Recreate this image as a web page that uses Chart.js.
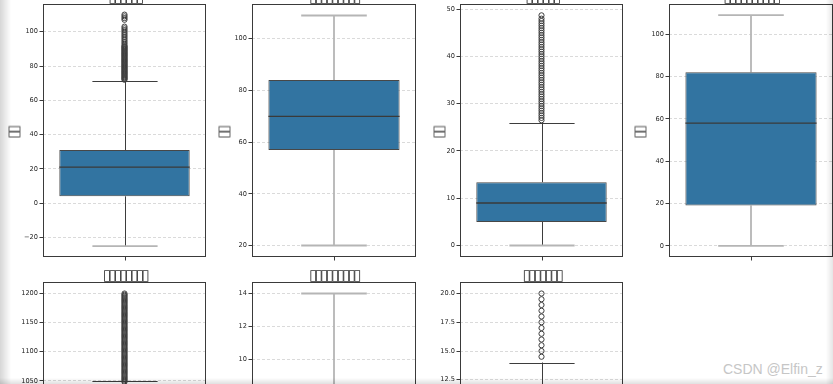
<!DOCTYPE html>
<html><head><meta charset="utf-8">
<script src="https://cdn.jsdelivr.net/npm/chart.js@4"></script>
<style>
html,body{margin:0;padding:0;width:833px;height:384px;overflow:hidden;background:#fff;position:relative;}
canvas{position:absolute;}
.t{position:absolute;font-family:'DejaVu Sans';font-size:15px;line-height:15px;color:#333;white-space:nowrap;letter-spacing:-2.75px;}
.yl{position:absolute;font-family:'DejaVu Sans';font-size:15px;line-height:15px;color:#333;white-space:nowrap;letter-spacing:-2.75px;}
.wm{position:absolute;left:723px;top:361px;font-family:'Liberation Sans';font-size:14px;color:#c6c6c6;}
.sh{position:absolute;pointer-events:none;}
</style></head><body>
<script>
// ---------- data ----------
const G = '\u25AF';
const titles = [G.repeat(6), G.repeat(9), G.repeat(6), G.repeat(10), G.repeat(8), G.repeat(9), G.repeat(7)];
const yLabels = [G+G, G+G, G+G, G+G, G+G, G+G, G+G];
const q1 =          [4,   57,  5,    19,  900,  2, 4];
const medians =     [21,  70,  9,    58,  930,  4, 6];
const q3 =          [31,  84,  13.4, 82,  960,  7, 8];
const whiskerLow =  [-25, 20,  0,    0,   810,  0, 0];
const whiskerHigh = [71,  109, 26,   109, 1050, 14, 14];
const outliers1 = [72,72.5,73,73.5,74,74.5,75,75.5,76,76.5,77,77.5,78,78.5,79,79.5,80,80.5,81,81.5,82,82.5,83,83.5,84,84.5,85,85.5,86,86.5,87,87.5,88,88.5,89,89.5,90,90.5,91,91.5,92,93,94,95,96,97,98,99,100,101,102,103,107,108,109,110];
const outliers2 = [];
const outliers3 = [26.5,27,27.5,28,28.5,29,29.5,30,30.5,31,31.5,32,32.5,33,33.5,34,34.5,35,35.5,36,36.5,37,37.5,38,38.5,39,39.5,40,40.5,41,41.5,42,42.5,43,43.5,44,44.5,45,45.5,46,46.5,47,47.5,48,48.7];
const outliers4 = [];
const outliers5 = [1048,1050,1052,1054,1056,1058,1060,1062,1064,1066,1068,1070,1072,1074,1076,1078,1080,1082,1084,1086,1088,1090,1092,1094,1096,1098,1100,1102,1104,1106,1108,1110,1112,1114,1116,1118,1120,1122,1124,1126,1128,1130,1132,1134,1136,1138,1140,1142,1144,1146,1148,1150,1152,1154,1156,1158,1160,1162,1164,1166,1168,1170,1172,1174,1176,1178,1180,1182,1184,1186,1188,1190,1192,1194,1196,1198,1200];
const outliers6 = [];
const outliers7 = [14.5,15,15.5,16,16.5,17,17.5,18,18.5,19,19.5,20];
const outliers = [outliers1, outliers2, outliers3, outliers4, outliers5, outliers6, outliers7];
const ticks1 = [-20,0,20,40,60,80,100];
const ticks2 = [20,40,60,80,100];
const ticks3 = [0,10,20,30,40,50];
const ticks4 = [0,20,40,60,80,100];
const ticks5 = [800,850,900,950,1000,1050,1100,1150,1200];
const ticks6 = [0,2,4,6,8,10,12,14];
const ticks7 = [0,2.5,5,7.5,10,12.5,15,17.5,20];
const tickSets = [ticks1, ticks2, ticks3, ticks4, ticks5, ticks6, ticks7];
const tickDecimals = [0,0,0,0,0,0,1];
const yMin = [-31.4, 15.55, -2.43, -5.3, 785, -0.7, -1];
const yMax = [116.2, 113.45, 51.1, 114.3, 1219.8, 14.7, 21];

// ---------- layout / style ----------
const colLeft = [43, 252, 460, 669];
const rowTop = [4, 282];
const plotW = 164, plotH = 253, leftW = 44, padV = 8;
const ylOffset = [29.5, 28.5, 21.5, 29.5];
const softWhisker = [false, true, false, true, false, true, false];
const softLowCap = [true, true, true, true, false, false, false];
const softHighCap = [false, true, false, true, false, true, false];
const BOX = '#3274a1', LINE = '#3d3d3d', SOFT = '#b5b5b5';

function hline(ctx, x1, x2, y, soft){
  ctx.beginPath();
  if (soft){ ctx.strokeStyle = SOFT; ctx.lineWidth = 1.8; }
  else { ctx.strokeStyle = LINE; ctx.lineWidth = 1; y = Math.round(y) + 0.5; }
  ctx.moveTo(x1, y); ctx.lineTo(x2, y); ctx.stroke();
}
function vline(ctx, x, y1, y2, soft){
  ctx.beginPath();
  if (soft){ ctx.strokeStyle = SOFT; ctx.lineWidth = 1.8; }
  else { ctx.strokeStyle = LINE; ctx.lineWidth = 1; x = x + 0.5; }
  ctx.moveTo(x, y1); ctx.lineTo(x, y2); ctx.stroke();
}

const boxPlugin = {
  id: 'boxparts',
  beforeDatasetsDraw(chart, args, o){
    const {ctx, scales:{x, y}} = chart;
    const cx = Math.round(x.getPixelForValue(0));
    const bar = chart.getDatasetMeta(0).data[0];
    const ch = bar.width / 4;
    ctx.save();
    ctx.beginPath(); ctx.rect(chart.chartArea.left, chart.chartArea.top, chart.chartArea.width, chart.chartArea.height); ctx.clip();
    vline(ctx, cx, y.getPixelForValue(o.q3), y.getPixelForValue(o.hi), o.softW);
    vline(ctx, cx, y.getPixelForValue(o.q1), y.getPixelForValue(o.lo), o.softW);
    hline(ctx, cx - ch, cx + ch, y.getPixelForValue(o.hi), o.softHi);
    hline(ctx, cx - ch, cx + ch, y.getPixelForValue(o.lo), o.softLo);
    ctx.restore();
  },
  afterDatasetsDraw(chart, args, o){
    const {ctx, scales:{x, y}} = chart;
    const bar = chart.getDatasetMeta(0).data[0];
    const cx = x.getPixelForValue(0);
    ctx.save();
    ctx.beginPath(); ctx.rect(chart.chartArea.left, chart.chartArea.top, chart.chartArea.width, chart.chartArea.height); ctx.clip();
    ctx.strokeStyle = '#3a3a3a'; ctx.lineWidth = 1.3;
    const my = y.getPixelForValue(o.med);
    ctx.beginPath(); ctx.moveTo(cx - bar.width/2, my); ctx.lineTo(cx + bar.width/2, my); ctx.stroke();
    ctx.restore();
  },
  afterDraw(chart, args, o){
    const {ctx, chartArea:a, scales:{x}} = chart;
    ctx.save();
    ctx.strokeStyle = '#3a3a3a'; ctx.lineWidth = 1;
    ctx.strokeRect(a.left + 0.5, a.top + 0.5, a.width - 1, a.height - 1);
    const cx = Math.round(x.getPixelForValue(0)) + 0.5;
    ctx.beginPath(); ctx.moveTo(cx, a.bottom); ctx.lineTo(cx, a.bottom + 3.5); ctx.stroke();
    ctx.restore();
  }
};

for (let i = 0; i < 7; i++){
  const col = i % 4, row = Math.floor(i / 4);
  const pl = colLeft[col], pt = rowTop[row];
  const cv = document.createElement('canvas');
  cv.width = leftW + plotW + 4; cv.height = padV + plotH + padV;
  cv.style.left = (pl - leftW) + 'px'; cv.style.top = (pt - padV) + 'px';
  document.body.appendChild(cv);
  const tk = tickSets[i], dec = tickDecimals[i];
  new Chart(cv, {
    type: 'bar',
    data: {
      labels: ['v'],
      datasets: [
        {type:'bar', data:[[q1[i], q3[i]]], backgroundColor: BOX, borderColor:'#474747', borderWidth:1, borderSkipped:false,
         barPercentage:0.8, categoryPercentage:1, order:2},
        {type:'line', data: outliers[i].map(v => ({x:'v', y:v})), showLine:false, pointRadius:2.6, pointBorderWidth:1,
         pointBorderColor:'#3d3d3d', pointBackgroundColor:'rgba(0,0,0,0)', order:1}
      ]
    },
    options: {
      responsive:false, animation:false, events:[],
      layout:{padding:{top:padV, bottom:padV, left:0, right:4}},
      plugins:{legend:{display:false}, tooltip:{enabled:false},
        boxparts:{q1:q1[i], q3:q3[i], med:medians[i], lo:whiskerLow[i], hi:whiskerHigh[i],
                  softW:softWhisker[i], softLo:softLowCap[i], softHi:softHighCap[i]}},
      scales:{
        x:{display:false},
        y:{min:yMin[i], max:yMax[i],
           afterFit(s){ s.width = leftW; },
           afterBuildTicks(s){ s.ticks = tk.map(v => ({value:v})); },
           ticks:{font:{family:'DejaVu Sans', size:6.6}, color:'#262626', padding:1.5,
                  callback(v){ const s = Math.abs(v).toFixed(dec); return v < 0 ? '\u2212' + s : s; }},
           grid:{color:'#d0d0d0', lineWidth:0.8, tickColor:'#3a3a3a', tickLength:3.5, tickWidth:1},
           border:{display:false, dash:[3,2]}}
      }
    },
    plugins:[boxPlugin]
  });
  const t = document.createElement('div');
  t.className = 't'; t.textContent = titles[i];
  t.style.left = (pl + plotW/2) + 'px'; t.style.top = (pt - 7) + 'px';
  t.style.transform = 'translate(-50%,-50%)';
  document.body.appendChild(t);
  const yl = document.createElement('div');
  yl.className = 'yl'; yl.textContent = yLabels[i];
  yl.style.left = (pl - ylOffset[col]) + 'px'; yl.style.top = (pt + plotH/2 + 2) + 'px';
  yl.style.transform = 'translate(-50%,-50%) rotate(-90deg)';
  document.body.appendChild(yl);
}
const wm = document.createElement('div');
wm.className = 'wm'; wm.textContent = 'CSDN @Elfin_z';
document.body.appendChild(wm);
const shades = [
  'left:0;top:0;width:11px;height:384px;background:linear-gradient(to right,rgba(0,0,0,0.16),rgba(0,0,0,0))',
  'right:0;top:0;width:7px;height:384px;background:linear-gradient(to left,rgba(0,0,0,0.10),rgba(0,0,0,0))',
  'left:0;bottom:0;width:833px;height:6px;background:linear-gradient(to top,rgba(0,0,0,0.12),rgba(0,0,0,0))'
];
shades.forEach(s => { const d = document.createElement('div'); d.className = 'sh'; d.style.cssText = s; document.body.appendChild(d); });
</script>
</body></html>
